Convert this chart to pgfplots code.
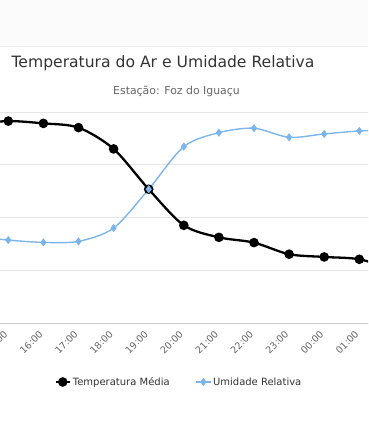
\documentclass[border=0pt]{standalone}
\usepackage{pgfplots}
\pgfplotsset{compat=1.18}
\usepackage{fontspec}
\setmainfont{DejaVu Sans}
\definecolor{hcblue}{HTML}{7CB5EC}
\definecolor{gridc}{HTML}{E6E6E6}
\definecolor{labc}{HTML}{666666}
\definecolor{txtc}{HTML}{333333}
\begin{document}
\begin{tikzpicture}[x=1pt,y=1pt]
\path[use as bounding box] (0,0) rectangle (368,423);
\clip (0,0) rectangle (368,423);
\fill[gray!3] (0,377) rectangle (368,423);
\draw[gray!15] (0,377) -- (368,377);
\begin{axis}[
  at={(-44.35pt,100pt)}, anchor=south west,
  scale only axis, width=491.4pt, height=211pt,
  xmin=-0.5, xmax=13.5, ymin=0, ymax=100,
  xtick={0,...,12},
  xticklabels={14:00,15:00,16:00,17:00,18:00,19:00,20:00,21:00,22:00,23:00,00:00,01:00,02:00},
  xticklabel shift=7pt,
  xticklabel style={rotate=45, anchor=east, font=\fontsize{9.5}{11}\selectfont, text=labc},
  ytick={0,25,50,75,100}, yticklabels={},
  ymajorgrids, major grid style={gridc, line width=0.8pt},
  axis x line*=bottom, axis y line*=left,
  y axis line style={draw=none},
  x axis line style={draw=black!20, line width=0.8pt},
  tick style={draw=none},
  legend style={at={(0.4545,-0.2796)}, anchor=center, draw=none, fill=none,
    legend columns=2, font=\fontsize{10}{12}\selectfont, text=txtc,
    /tikz/every even column/.append style={column sep=24pt}},
  legend cell align=left,
  legend image code/.code={\draw[mark repeat=2,mark phase=2] plot coordinates {(0pt,0pt)(7pt,0pt)(14pt,0pt)};},
]
\addplot[black, line width=2.3pt, smooth, tension=0.5, mark=*, mark size=3.6pt, mark options={solid}]
 coordinates {(0,94.1)(1,95.7)(2,94.6)(3,92.6)(4,82.5)(5,63.4)(6,46.3)(7,40.6)(8,38.1)(9,32.6)(10,31.3)(11,30.2)(12,25.1)};
\addlegendentry{Temperatura Média}
\addplot[hcblue, line width=1.4pt, smooth, tension=0.5, mark=diamond*, mark size=3pt, mark options={solid}]
 coordinates {(0,41.2)(1,39.3)(2,38.2)(3,38.7)(4,45.0)(5,63.4)(6,83.6)(7,90.2)(8,92.3)(9,88.0)(10,89.6)(11,91.0)(12,91.5)};
\addlegendentry{Umidade Relativa}
\end{axis}
\node[text=txtc, font=\fontsize{15.6}{18}\selectfont] at (163,360) {Temperatura do Ar e Umidade Relativa};
\node[text=labc, font=\fontsize{10.9}{13}\selectfont] at (176.5,331.3) {Estação: Foz do Iguaçu};
\end{tikzpicture}
\end{document}
